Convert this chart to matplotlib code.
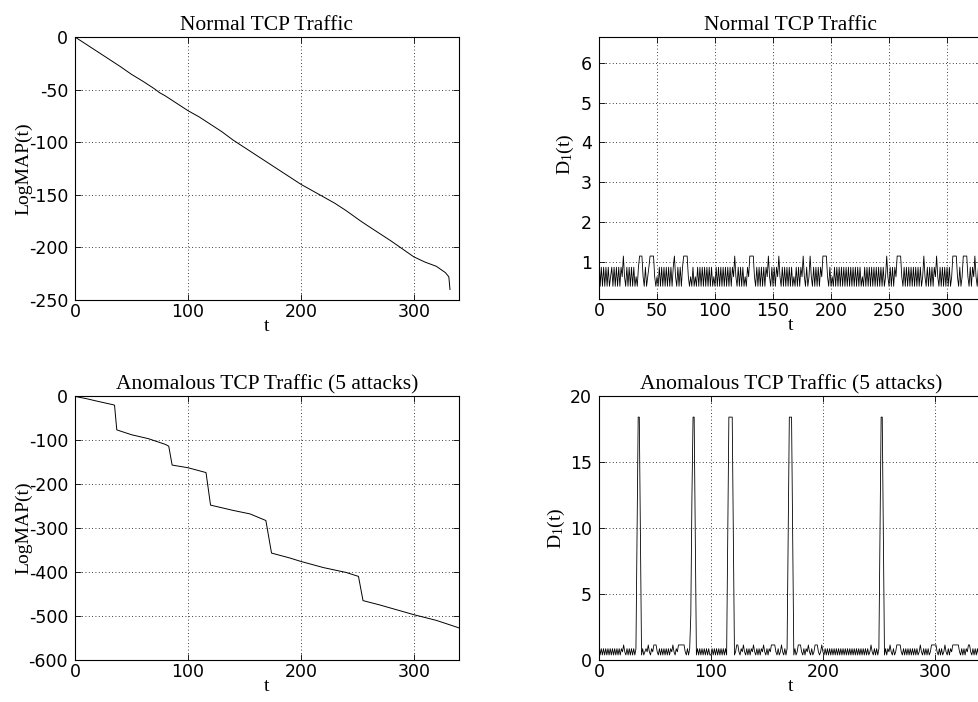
import numpy as np
import matplotlib
matplotlib.use("Agg")
import matplotlib.pyplot as plt

plt.rcParams['mathtext.fontset'] = 'custom'
plt.rcParams['mathtext.rm'] = 'Liberation Serif'
plt.rcParams['mathtext.it'] = 'Liberation Serif:italic'
plt.rcParams['axes.unicode_minus'] = False

# LogMAP(t), normal traffic (t, value)
logmap_normal_t = [0, 10, 20, 30, 40, 50, 60, 70, 75, 80, 90, 100, 110, 120, 130, 140,
                   150, 160, 170, 180, 190, 200, 210, 220, 230, 240, 253, 260, 270, 280,
                   288, 300, 310, 320, 328, 331, 332]
logmap_normal = [0, -7, -14, -21, -28, -35.5, -42, -49, -53, -56, -63, -70, -76, -83, -90, -98,
                 -105, -112, -119, -126, -133, -140, -146, -152, -158, -165, -175, -180, -187, -194,
                 -200, -209, -214, -218, -224, -228, -240]

# LogMAP(t), traffic with 5 attacks
logmap_attack_t = [0, 10, 20, 34, 35, 37, 50, 65, 80, 83, 86, 100, 116, 120, 140, 155, 169, 174,
                   190, 200, 220, 240, 251, 255, 270, 300, 320, 340]
logmap_attack = [-1, -6, -12, -20, -21, -77, -88, -97, -110, -114, -157, -163, -174, -248, -260,
                 -268, -283, -357, -368, -376, -390, -401, -410, -465, -475, -497, -510, -527]

# D1(t) levels, one code per time step
d1_levels = {'0': 0.38, '1': 0.62, '2': 0.86, '3': 1.14,
             '4': 3.4, '5': 9.6, '6': 12.3, '7': 18.4}

d1_normal_codes = ("30202020201202020202" "13102020202010233310" "20123333101020202020"
                   "20202310202023333101" "02010202020202020201" "02020202020202021310"
                   "20202010213333102020" "20202131020202131020" "20202020102020213102"
                   "01310202020213333102" "01020202020202020202" "02020201020202020202"
                   "02020201310202021333" "31020202020202020201" "31020202021310202020"
                   "20201333310201333310" "20213102020202020202")

d1_attack_codes = ("30202020202020202020" "21310202020202577502" "01213102133310202020"
                   "20202131021333333102" "02467750202020202020" "02020202020202057777"
                   "50133102131020202131" "02020213102021333310" "20131020257775020133"
                   "31020213102013331013" "10202020202020202020" "20202020202020202020"
                   "20131020202577502021" "31020133331020202020" "20202013102020201333"
                   "33102020131020213333" "33102020213310202020")

d1_normal = [d1_levels[c] for c in d1_normal_codes]
d1_attack = [d1_levels[c] for c in d1_attack_codes]

W, H = 979, 702
fig = plt.figure(figsize=(W / 100, H / 100), dpi=100)

def make_ax(left, top, right, bottom):
    return fig.add_axes([left / W, 1 - bottom / H, (right - left) / W, (bottom - top) / H])

serif = 'Liberation Serif'

def style(ax, title, ylabel, ylab_x):
    ax.tick_params(direction='in', top=True, right=True, length=4, width=0.6,
                   labelsize=12.5, colors='black')
    ax.tick_params(axis='x', pad=2)
    ax.tick_params(axis='y', pad=5)
    for lab in ax.get_xticklabels() + ax.get_yticklabels():
        lab.set_fontfamily('DejaVu Sans')
    ax.grid(True, color='black', linestyle=(0, (1, 3)), linewidth=0.6)
    for s in ax.spines.values():
        s.set_linewidth(0.8)
    ax.set_title(title, family=serif, fontsize=15.5, pad=5)
    ax.set_xlabel('t', family=serif, fontsize=14, labelpad=-2)
    ax.set_ylabel(ylabel, family=serif, fontsize=14)
    ax.yaxis.set_label_coords(ylab_x, 0.5)

# top-left
ax1 = make_ax(75, 37, 459, 300)
ax1.plot(logmap_normal_t, logmap_normal, color='black', linewidth=0.7)
ax1.set_xlim(0, 340)
ax1.set_ylim(-250, 0)
ax1.set_xticks([0, 100, 200, 300])
ax1.set_yticks([0, -50, -100, -150, -200, -250])
style(ax1, 'Normal TCP Traffic', 'LogMAP(t)', -0.112)

# top-right
ax2 = make_ax(599, 37, 983, 299)
ax2.plot(np.arange(len(d1_normal)), d1_normal, color='black', linewidth=0.6)
ax2.set_xlim(0, 331)
ax2.set_ylim(0.06, 6.65)
ax2.set_xticks([0, 50, 100, 150, 200, 250, 300])
ax2.set_yticks([1, 2, 3, 4, 5, 6])
style(ax2, 'Normal TCP Traffic', 'D$_1$(t)', -0.06)
ax2.yaxis.set_label_coords(-0.06, 0.55)

# bottom-left
ax3 = make_ax(75, 396, 459, 660)
ax3.plot(logmap_attack_t, logmap_attack, color='black', linewidth=0.7)
ax3.set_xlim(0, 340)
ax3.set_ylim(-600, 0)
ax3.set_xticks([0, 100, 200, 300])
ax3.set_yticks([0, -100, -200, -300, -400, -500, -600])
style(ax3, 'Anomalous TCP Traffic (5 attacks)', 'LogMAP(t)', -0.112)

# bottom-right
ax4 = make_ax(599, 396, 983, 660)
ax4.plot(np.arange(len(d1_attack)), d1_attack, color='black', linewidth=0.6)
ax4.set_xlim(0, 343)
ax4.set_ylim(0, 20)
ax4.set_xticks([0, 100, 200, 300])
ax4.set_yticks([0, 5, 10, 15, 20])
style(ax4, 'Anomalous TCP Traffic (5 attacks)', 'D$_1$(t)', -0.083)

fig.savefig('out.png', dpi=100)
